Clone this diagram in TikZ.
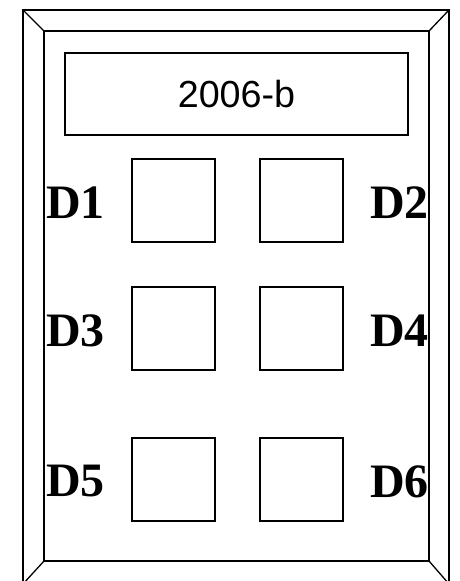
\documentclass[tikz,border=0pt]{standalone}
\usepackage{fontspec}
\setmainfont{Liberation Serif}
\newfontfamily\titlefont{Liberation Sans}
\usepackage{tikz}
\usetikzlibrary{positioning}

\tikzset{
  frameline/.style={draw=black, line width=1.3pt},
  slotbox/.style={frameline, minimum size=83pt, inner sep=0pt},
  slotlabel/.style={inner sep=0pt, font=\fontsize{48}{48}\selectfont\bfseries}
}

\begin{document}
\begin{tikzpicture}[x=1pt, y=1pt]
\useasboundingbox (0,0) rectangle (459,581);
% frame corners
\coordinate (outerNW) at (23,571);
\coordinate (outerSE) at (449,-3);
\coordinate (outerNE) at (449,571);
\coordinate (outerSW) at (23,-3);
\coordinate (innerNW) at (44,550);
\coordinate (innerSE) at (429,20);
\coordinate (innerNE) at (429,550);
\coordinate (innerSW) at (44,20);
\draw[frameline] (outerNW) rectangle (outerSE);
\draw[frameline] (innerNW) rectangle (innerSE);
\draw[frameline] (outerNW) -- (innerNW);
\draw[frameline] (outerNE) -- (innerNE);
\draw[frameline] (outerSW) -- (innerSW);
\draw[frameline] (outerSE) -- (innerSE);
% title
\node[frameline, minimum width=343pt, minimum height=82pt, inner sep=0pt,
      font=\titlefont\fontsize{37.7}{37.7}\selectfont] (title) at (236.5,487) {2006-b};
% slots
\foreach \row/\y/\lab/\rab in {1/380.5/D1/D2, 2/252.5/D3/D4, 3/101.5/D5/D6}{
  \node[slotbox] (slotL\row) at (173.5,\y) {};
  \node[slotbox] (slotR\row) at (301.5,\y) {};
  \node[slotlabel, anchor=west] (labL\row) at (46,\y-2) {\lab};
  \node[slotlabel, anchor=east] (labR\row) at (429,\y-2) {\rab};
}
\end{tikzpicture}
\end{document}
